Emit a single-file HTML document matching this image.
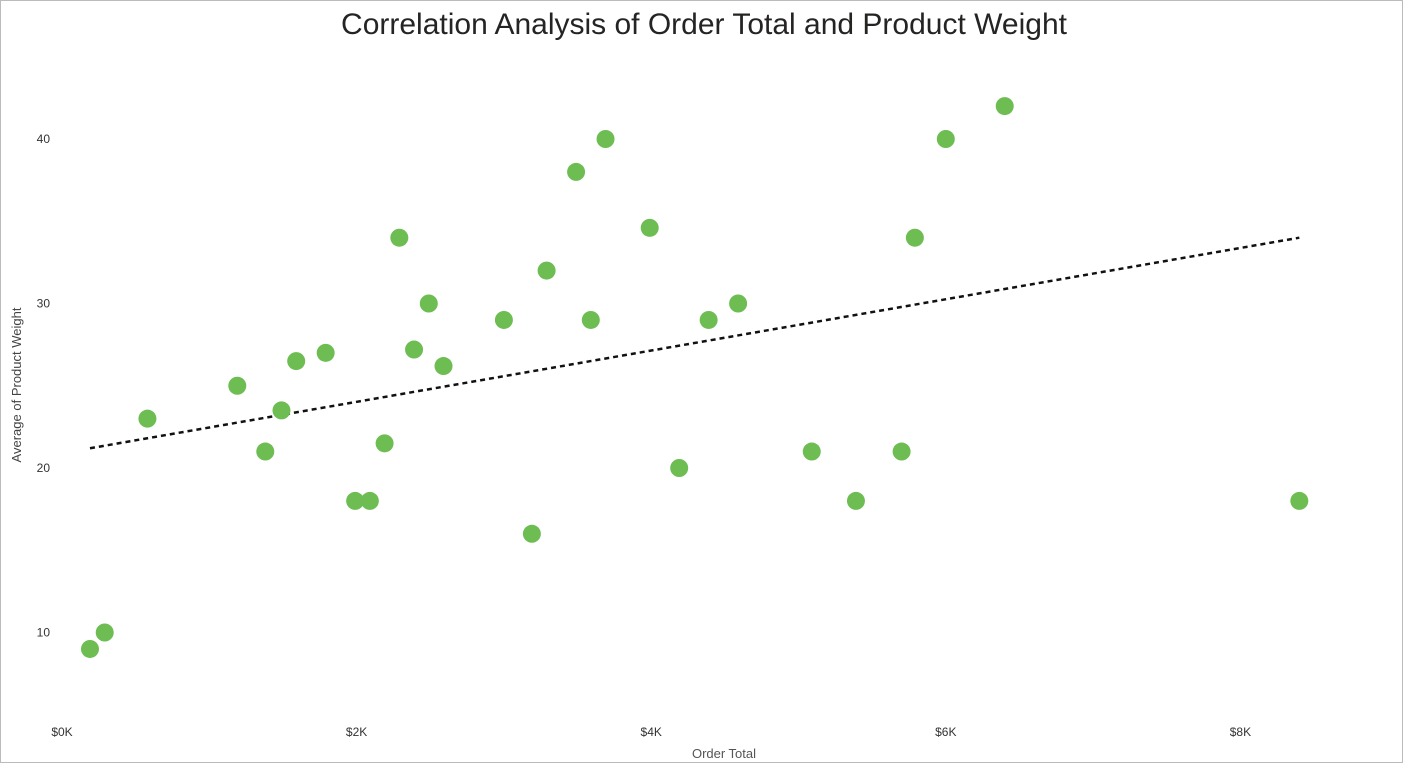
<!DOCTYPE html>
<html><head><meta charset="utf-8"><style>
body{margin:0;background:#fff;width:1403px;height:763px;overflow:hidden;font-family:"Liberation Sans","DejaVu Sans",sans-serif}
svg{display:block}
</style></head><body>
<svg id="chart" width="1403" height="763" xmlns="http://www.w3.org/2000/svg">
<rect x="0.5" y="0.5" width="1402" height="762" fill="#fff" stroke="#bbb"/>
<text x="704" y="34" text-anchor="middle" font-size="30" fill="#252423">Correlation Analysis of Order Total and Product Weight</text>
<text x="724" y="758" text-anchor="middle" font-size="13" fill="#555">Order Total</text>
<text transform="translate(21,385) rotate(-90)" text-anchor="middle" font-size="13" fill="#444">Average of Product Weight</text>
<g id="xt"></g><g id="yt"></g><g id="trend"></g><g id="pts"></g>
</svg>
<script>
const xTicks=[0,2,4,6,8];
const xTickLabels=["$0K","$2K","$4K","$6K","$8K"];
const yTicks=[10,20,30,40];
const orderTotalK=[0.19,0.29,0.58,1.19,1.38,1.49,1.59,1.79,1.99,2.09,2.19,2.29,2.39,2.49,2.59,3.0,3.19,3.29,3.49,3.59,3.69,3.99,4.19,4.39,4.59,5.09,5.39,5.70,5.79,6.0,6.4,8.4];
const productWeight=[9,10,23,25,21,23.5,26.5,27,18,18,21.5,34,27.2,30,26.2,29,16,32,38,29,40,34.6,20,29,30,21,18,21,34,40,42,18];
const trendX=[0.19,8.4];
const trendY=[21.2,34.0];
const ns="http://www.w3.org/2000/svg";
const sx=v=>62+v*147.3;
const sy=v=>797-v*16.45;
function mk(t,a,p){const e=document.createElementNS(ns,t);for(const k in a)e.setAttribute(k,a[k]);p.appendChild(e);return e;}
const xt=document.getElementById('xt');
xTicks.forEach((v,i)=>{const t=mk('text',{x:sx(v),y:736,'text-anchor':'middle','font-size':12,fill:'#333'},xt);


t.textContent=xTickLabels[i];});
const yt=document.getElementById('yt');
yTicks.forEach(v=>{const t=mk('text',{x:50,y:sy(v)+4,'text-anchor':'end','font-size':12,fill:'#333'},yt);


t.textContent=v;});
const tr=document.getElementById('trend');
const l=mk('line',{x1:sx(trendX[0]),y1:sy(trendY[0]),x2:sx(trendX[1]),y2:sy(trendY[1]),stroke:'#111','stroke-width':2.5,'stroke-dasharray':'5,4'},tr);


const pts=document.getElementById('pts');
orderTotalK.forEach((v,i)=>{const c=mk('circle',{cx:sx(v),cy:sy(productWeight[i]),r:9,fill:'#6dbd53'},pts);

});
</script>
</body></html>
